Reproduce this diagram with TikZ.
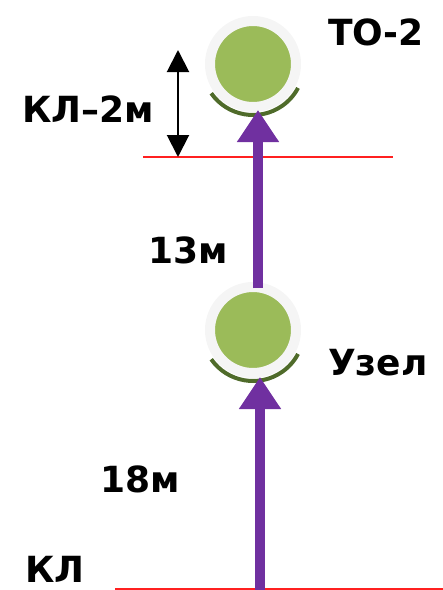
\documentclass[tikz,border=0pt]{standalone}
\usepackage{fontspec}
\setmainfont{DejaVu Sans}
\usetikzlibrary{arrows.meta}
\definecolor{vio}{HTML}{7030A0}
\definecolor{grn}{HTML}{9BBB59}
\definecolor{dgrn}{HTML}{4F6B2A}
\definecolor{redl}{HTML}{FF2020}
\tikzset{
  nodecirc/.style={circle, fill=grn, minimum size=86pt, inner sep=0pt, draw=gray!8, line width=10pt},
  lbl/.style={font=\bfseries\fontsize{36}{38}\selectfont, inner sep=0pt, anchor=base west},
  redline/.style={draw=redl, line width=1.8pt},
  vioarrow/.style={draw=vio, line width=10pt, -{Triangle[width=40pt,length=32pt]}},
  dimarrow/.style={draw=black, line width=2pt, {Triangle[width=22pt,length=22pt]}-{Triangle[width=22pt,length=22pt]}},
  darc/.style={draw=dgrn, line width=4pt}
}
\begin{document}
\begin{tikzpicture}[x=1pt,y=-1pt]
\useasboundingbox (0,0) rectangle (443,590);
% circles
\node[nodecirc] (to2) at (253,64) {};
\node[nodecirc] (uzel) at (253,330) {};
\draw[darc] (253,64) ++(145:51) arc[start angle=145, end angle=28, radius=51];
\draw[darc] (253,330) ++(145:51) arc[start angle=145, end angle=28, radius=51];
% red lines
\coordinate (r1a) at (143,157);
\coordinate (r1b) at (393,157);
\coordinate (r2a) at (115,589);
\coordinate (r2b) at (443,589);
\draw[redline] (r1a) -- (r1b);
\draw[redline] (r2a) -- (r2b);
% dimension arrow
\coordinate (d1) at (178,50);
\coordinate (d2) at (178,157);
\draw[dimarrow] (d1) -- (d2);
% violet arrows
\coordinate (s1) at (258,288);
\coordinate (t1) at (258,110);
\draw[vioarrow] (s1) -- (t1);
\coordinate (s2) at (260,590);
\coordinate (t2) at (260,377);
\draw[vioarrow] (s2) -- (t2);
% labels
\node[lbl] (lto) at (328,45) {ТО-2};
\node[lbl] (luz) at (328,375) {Узел};
\node[lbl] (lkl2) at (22,122) {КЛ–2м};
\node[lbl] (l13) at (148,263) {13м};
\node[lbl] (l18) at (100,492) {18м};
\node[lbl] (lkl) at (25,582) {КЛ};
\end{tikzpicture}
\end{document}
